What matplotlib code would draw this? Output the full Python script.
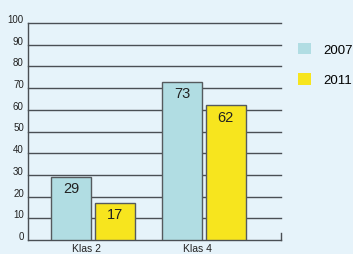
import matplotlib
matplotlib.use("Agg")
import matplotlib.pyplot as plt
import matplotlib.transforms as mtransforms
from matplotlib.patches import Patch
import numpy as np

categories = ["Klas 2", "Klas 4"]
series_names = ["2007", "2011"]
values_2007 = [29, 73]
values_2011 = [17, 62]
yticks = [0, 10, 20, 30, 40, 50, 60, 70, 80, 90, 100]

bg = "#e6f3fa"
colors = ["#b1dde3", "#f7e51e"]
edge = "#555a5e"
grid_c = "#4a4f54"

plt.rcParams["font.family"] = ["Liberation Sans", "DejaVu Sans"]

W, H = 353, 255
fig = plt.figure(figsize=(W / 100, H / 100), dpi=100)
fig.patch.set_facecolor(bg)
ax = fig.add_axes([28 / W, 1 - 241 / H, (281 - 28) / W, (241 - 24) / H])
ax.set_facecolor(bg)

x = np.arange(len(categories))
width = 0.36
off = 0.196
ax.set_xlim(-0.586, 1.694)
ax.set_ylim(0, 100)

for yv in yticks[1:]:
    ax.axhline(yv, color=grid_c, lw=1.0, zorder=1, clip_on=False)

for vals, o, c in [(values_2007, -off, colors[0]), (values_2011, off, colors[1])]:
    bars = ax.bar(x + o, vals, width, color=c, edgecolor=edge, linewidth=1.0, zorder=3)
    for b, v in zip(bars, vals):
        ax.text(b.get_x() + b.get_width() / 2, v - 2.0, str(v), ha="center", va="top",
                fontsize=10.5, color="#222222", zorder=4)

ax.spines["top"].set_visible(False)
ax.spines["right"].set_bounds(0, 3)
for s in ["left", "bottom", "right"]:
    ax.spines[s].set_color(grid_c)
    ax.spines[s].set_linewidth(1.0)

ax.set_yticks(yticks)
ax.set_yticklabels([str(t) for t in yticks])
ax.tick_params(axis="y", length=0, pad=3, labelsize=7, colors="#222222")
offset = mtransforms.ScaledTranslation(0, 5 / 100, fig.dpi_scale_trans)
for lbl in ax.get_yticklabels():
    lbl.set_transform(lbl.get_transform() + offset)

ax.set_xticks(x - 0.06)
ax.set_xticklabels(categories)
ax.tick_params(axis="x", length=0, pad=2, labelsize=7.5, colors="#222222")

handles = [Patch(facecolor=colors[0], edgecolor="none"), Patch(facecolor=colors[1], edgecolor="none")]
leg = fig.legend(handles, series_names, loc="upper left", bbox_to_anchor=(286 / W, 1 - 32 / H),
                 frameon=False, fontsize=9.5, handlelength=1.0, handleheight=0.95,
                 handletextpad=0.9, labelspacing=1.3)

fig.savefig("out.png", dpi=100, facecolor=bg)
